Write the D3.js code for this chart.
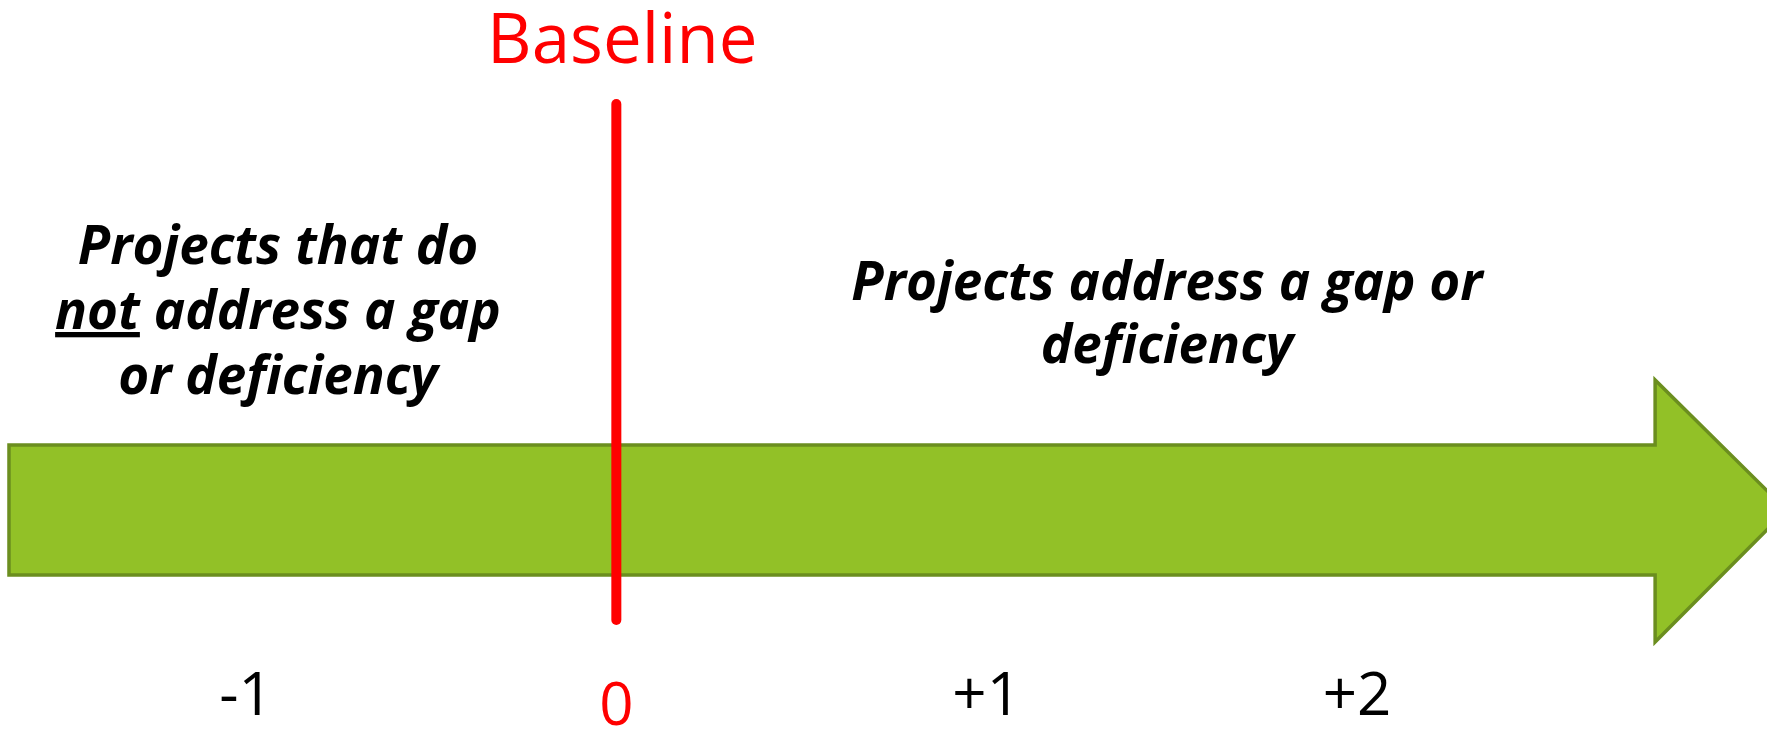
<!DOCTYPE html>
<html>
<head>
<meta charset="utf-8">
<script src="https://cdn.jsdelivr.net/npm/d3@7"></script>
<style>
  html, body { margin: 0; padding: 0; background: #ffffff; overflow: hidden; }
  svg { display: block; }
</style>
</head>
<body>
<svg id="chart" width="1767" height="735"></svg>
<script>
// ---- data ----
const tickValues = [-1, 0, 1, 2];
const tickLabels = ["-1", "0", "+1", "+2"];
const baselineValue = 0;
const baselineTitle = "Baseline";
const leftLines = [["Projects that do"], ["not", " address a gap"], ["or deficiency"]];
const rightLines = ["Projects address a gap or", "deficiency"];
// arrow extent along the scale (start of shaft, start of head, tip)
const arrowExtent = [-1.64, 2.805, 3.16];

// ---- layout ----
const svg = d3.select("#chart");
const x = d3.scaleLinear().domain([-1, 2]).range([246, 1357]);

const shaftTop = 445, shaftBottom = 575, headTop = 380, headBottom = 642;
const midY = (shaftTop + shaftBottom) / 2;
const font = "'Open Sans', 'DejaVu Sans', sans-serif";

// arrow
const arrowPts = [
  [x(arrowExtent[0]), shaftTop],
  [x(arrowExtent[1]), shaftTop],
  [x(arrowExtent[1]), headTop],
  [x(arrowExtent[2]), midY],
  [x(arrowExtent[1]), headBottom],
  [x(arrowExtent[1]), shaftBottom],
  [x(arrowExtent[0]), shaftBottom]
];
svg.append("path")
  .attr("d", d3.line()(arrowPts) + "Z")
  .attr("fill", "#92c127")
  .attr("stroke", "#6b8e1f")
  .attr("stroke-width", 3.5)
  .attr("stroke-linejoin", "miter");

// baseline red line
svg.append("line")
  .attr("x1", x(baselineValue)).attr("x2", x(baselineValue))
  .attr("y1", 104).attr("y2", 620)
  .attr("stroke", "#ff0000")
  .attr("stroke-width", 10)
  .attr("stroke-linecap", "round");

svg.append("text")
  .attr("x", x(baselineValue) + 6)
  .attr("y", 63)
  .attr("text-anchor", "middle")
  .attr("font-family", font)
  .attr("font-size", 69)
  .attr("fill", "#ff0000")
  .text(baselineTitle);

// left description (one text element per line)
leftLines.forEach((parts, i) => {
  const t = svg.append("text")
    .attr("x", 278).attr("y", 264 + i * 65)
    .attr("text-anchor", "middle")
    .attr("font-family", font)
    .attr("font-size", 53)
    .attr("font-weight", 700)
    .attr("font-style", "italic")
    .attr("fill", "#000");
  parts.forEach((p, j) => {
    const s = t.append("tspan").text(p);
    if (i === 1 && j === 0) s.attr("text-decoration", "underline");
  });
});

// right description
rightLines.forEach((l, i) => {
  svg.append("text")
    .attr("x", 1167).attr("y", 300 + i * 63)
    .attr("text-anchor", "middle")
    .attr("font-family", font)
    .attr("font-size", 53)
    .attr("font-weight", 700)
    .attr("font-style", "italic")
    .attr("fill", "#000")
    .text(l);
});

// tick labels
svg.append("g")
  .selectAll("text")
  .data(tickValues)
  .join("text")
  .attr("x", d => x(d))
  .attr("y", d => d === baselineValue ? 725 : 715)
  .attr("text-anchor", "middle")
  .attr("font-family", font)
  .attr("font-size", 60)
  .attr("fill", d => d === baselineValue ? "#ff0000" : "#000000")
  .text((d, i) => tickLabels[i]);
</script>
</body>
</html>
